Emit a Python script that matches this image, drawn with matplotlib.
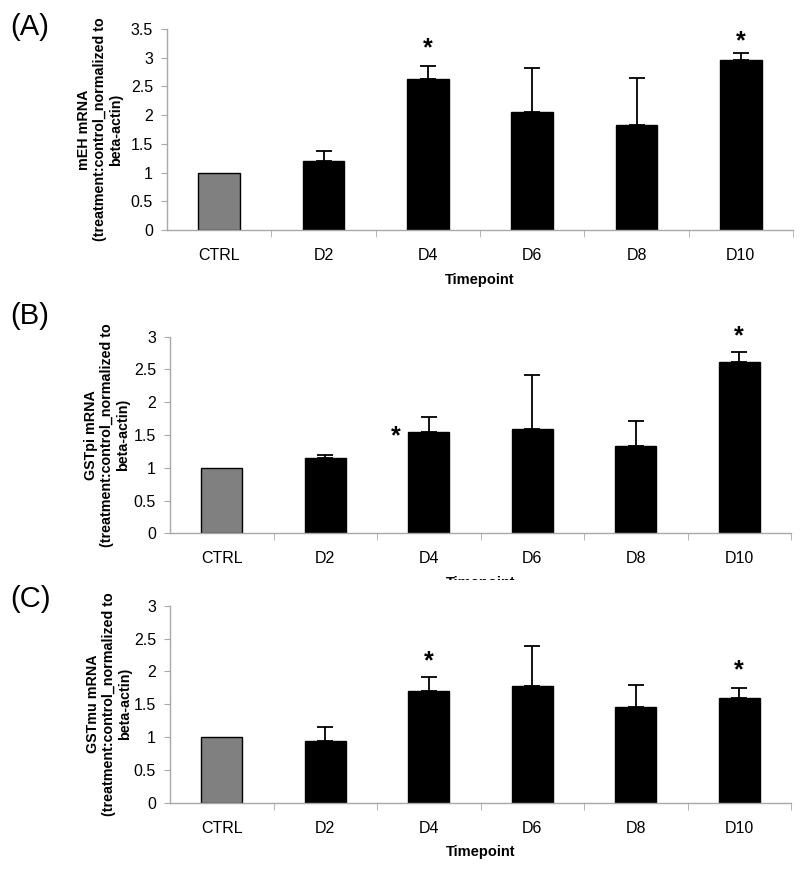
import matplotlib
matplotlib.use("Agg")
import matplotlib.pyplot as plt
from matplotlib.patches import Rectangle
import numpy as np

plt.rcParams['font.family'] = ['Liberation Sans', 'DejaVu Sans']

categories = ["CTRL", "D2", "D4", "D6", "D8", "D10"]

mEH_vals = [1.0, 1.21, 2.63, 2.05, 1.82, 2.96]
mEH_err = [0.0, 0.17, 0.22, 0.77, 0.83, 0.12]
mEH_star_idx = [2, 5]
mEH_star_y = [3.17, 3.29]

GSTpi_vals = [1.0, 1.15, 1.55, 1.59, 1.33, 2.61]
GSTpi_err = [0.0, 0.04, 0.23, 0.82, 0.39, 0.16]
GSTpi_star_idx = [2, 5]
GSTpi_star_y = [1.48, 3.01]

GSTmu_vals = [1.0, 0.94, 1.70, 1.78, 1.46, 1.59]
GSTmu_err = [0.0, 0.21, 0.22, 0.61, 0.33, 0.16]
GSTmu_star_idx = [2, 5]
GSTmu_star_y = [2.16, 2.02]

W, H = 800, 869
fig = plt.figure(figsize=(W / 100, H / 100), dpi=100)

def fx(px):
    return px / W

def fy(py):
    return 1 - py / H

panels = [
    dict(rect=[fx(167), fy(230), fx(793 - 167), (230 - 29) / H], vals=mEH_vals, err=mEH_err,
         sidx=mEH_star_idx, sy=mEH_star_y, ymax=3.5, ylab="mEH mRNA", lab="(A)", laby=27,
         star_dx=[0, 0], ylx=-0.070),
    dict(rect=[fx(170), fy(533.3), fx(791 - 170), (533.3 - 336.7) / H], vals=GSTpi_vals, err=GSTpi_err,
         sidx=GSTpi_star_idx, sy=GSTpi_star_y, ymax=3.0, ylab="GSTpi mRNA", lab="(B)", laby=316,
         star_dx=[-0.32, 0], ylx=-0.064),
    dict(rect=[fx(170), fy(802.7), fx(791 - 170), (802.7 - 605.7) / H], vals=GSTmu_vals, err=GSTmu_err,
         sidx=GSTmu_star_idx, sy=GSTmu_star_y, ymax=3.0, ylab="GSTmu mRNA", lab="(C)", laby=599,
         star_dx=[0, 0], ylx=-0.061),
]

spine_col = "#a8a8a8"
x = np.arange(len(categories))
for p in panels:
    ax = fig.add_axes(p["rect"])
    colors = ["#808080"] + ["black"] * (len(categories) - 1)
    ax.bar(x, p["vals"], width=0.4, color=colors, edgecolor="black", linewidth=1.0, zorder=2)
    ax.errorbar(x[1:], p["vals"][1:], yerr=[np.zeros(len(x) - 1), p["err"][1:]], fmt="none",
                ecolor="black", elinewidth=1.3, capsize=5.5, capthick=1.3, zorder=3)
    for k, (i, yv) in enumerate(zip(p["sidx"], p["sy"])):
        ax.text(i + p["star_dx"][k], yv, "*", ha="center", va="center", fontsize=18,
                fontweight="bold", zorder=4)
    ax.set_xlim(-0.5, 5.5)
    ax.set_ylim(0, p["ymax"])
    ax.set_yticks(np.arange(0, p["ymax"] + 0.01, 0.5))
    ax.set_yticklabels([f"{v:g}" for v in np.arange(0, p["ymax"] + 0.01, 0.5)])
    ax.set_xticks(x)
    ax.set_xticklabels(categories)
    ax.set_xticks(np.arange(0.5, 5.6, 1.0), minor=True)
    ax.tick_params(axis="x", which="major", length=0, pad=13, labelsize=11.5)
    ax.tick_params(axis="x", which="minor", length=5, color=spine_col, direction="out")
    ax.tick_params(axis="y", length=4, color=spine_col, labelsize=11.5, pad=6)
    for s in ["top", "right"]:
        ax.spines[s].set_visible(False)
    for s in ["left", "bottom"]:
        ax.spines[s].set_color(spine_col)
        ax.spines[s].set_linewidth(1.0)
    ax.set_ylabel(p["ylab"] + "\n(treatment:control_normalized to\nbeta-actin)",
                  fontsize=10.3, fontweight="bold", linespacing=1.2)
    ax.yaxis.set_label_coords(p["ylx"], 0.5)
    ax.set_xlabel("Timepoint", fontsize=10.5, fontweight="bold", labelpad=7)
    fig.text(fx(10), fy(p["laby"]), p["lab"], fontsize=21, ha="left", va="center")

# panel (C) image partially covers the "Timepoint" label of panel (B)
fig.patches.append(Rectangle((fx(380), fy(598)), fx(200), (598 - 580) / H,
                             transform=fig.transFigure, facecolor="white",
                             edgecolor="none", zorder=10))

fig.savefig("out.png", dpi=100, facecolor="white")
